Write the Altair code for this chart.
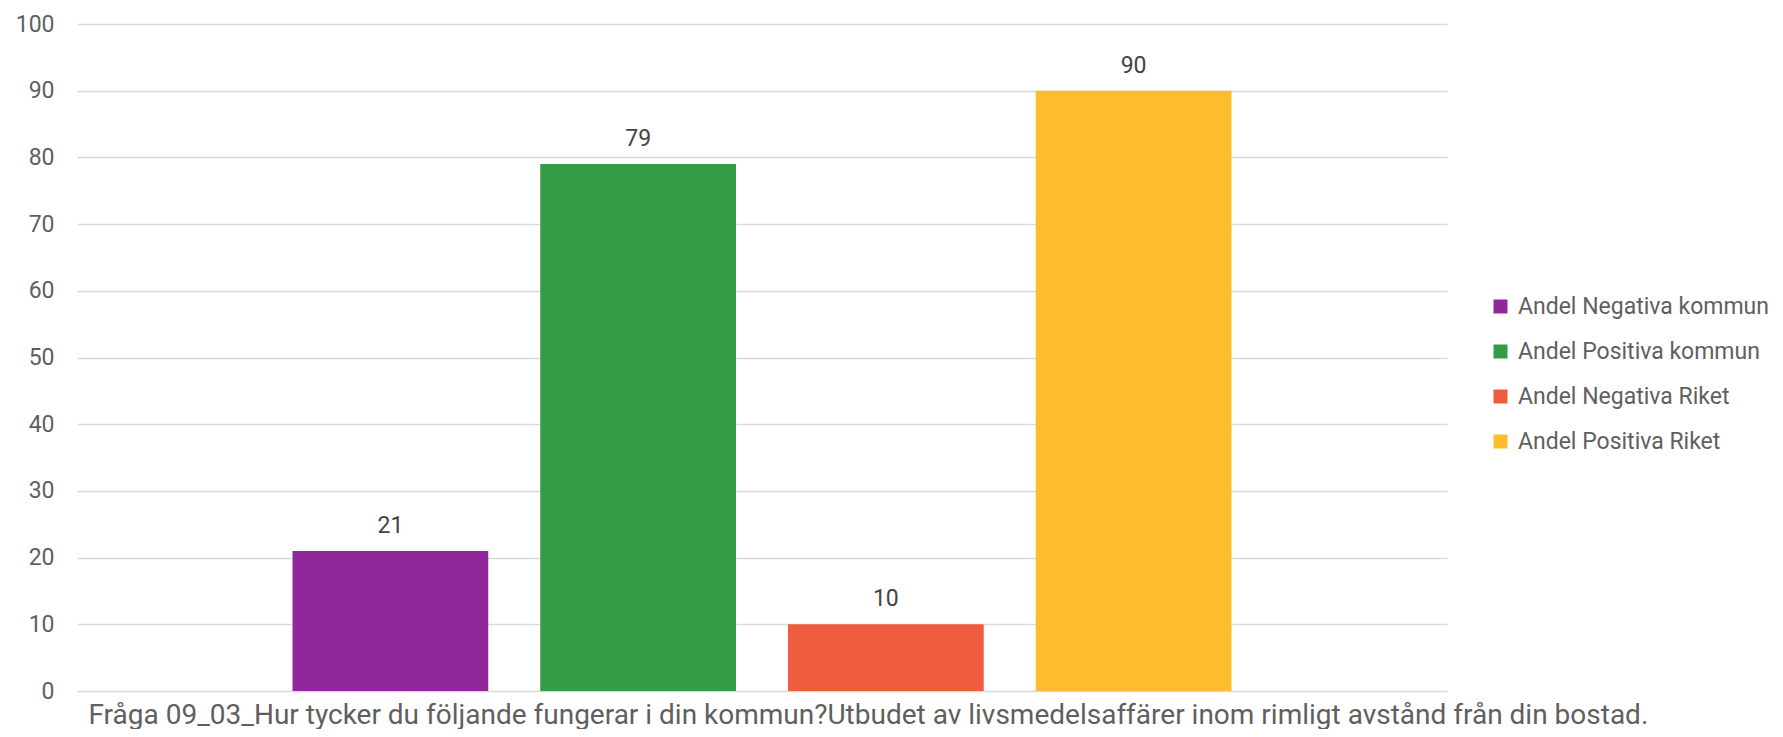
import altair as alt
import pandas as pd

series = ["Andel Negativa kommun", "Andel Positiva kommun", "Andel Negativa Riket", "Andel Positiva Riket"]
values = [21, 79, 10, 90]
colors = ["#90289B", "#349B47", "#EF5B3D", "#FDBD2F"]
question = "Fråga 09_03_Hur tycker du följande fungerar i din kommun?Utbudet av livsmedelsaffärer inom rimligt avstånd från din bostad."

df = pd.DataFrame({"serie": series, "varde": values})

x = alt.X(
    "serie:N",
    sort=series,
    scale=alt.Scale(paddingInner=0.21, paddingOuter=0.87),
    axis=alt.Axis(labels=False, ticks=False, domain=False, title=question,
                  titleFont="Roboto", titleFontSize=28, titleFontWeight="normal",
                  titleColor="#5f5f5f", titlePadding=10,
                  titleAnchor="start", titleAlign="left", titleX=11),
)

bars = alt.Chart(df).mark_bar().encode(
    x=x,
    y=alt.Y("varde:Q", scale=alt.Scale(domain=[0, 100]),
            axis=alt.Axis(values=list(range(0, 101, 10)), title=None, domain=False, ticks=False,
                          labelFont="Roboto", labelFontSize=23, labelColor="#5f5f5f",
                          labelPadding=23, gridColor="#d9d9d9", gridWidth=1.3)),
    color=alt.Color("serie:N", sort=series,
                    scale=alt.Scale(domain=series, range=colors),
                    legend=alt.Legend(title=None, orient="none", legendX=1412, legendY=271,
                                      symbolType="square", symbolSize=196, symbolStrokeWidth=0,
                                      labelFont="Roboto", labelFontSize=23, labelColor="#5f5f5f",
                                      rowPadding=21, labelOffset=6, padding=0,
                                      labelLimit=400)),
)

labels = alt.Chart(df).mark_text(font="Roboto", fontSize=23, color="#444444",
                                 baseline="alphabetic", dy=-18).encode(
    x=alt.X("serie:N", sort=series),
    y="varde:Q",
    text="varde:Q",
)

chart = alt.layer(bars, labels).properties(
    width=1370, height=667,
    padding={"left": 69, "top": 16, "right": 328, "bottom": 38},
    autosize=alt.AutoSizeParams(type="none"),
).configure_view(stroke=None)

chart.save("out.html", embed_options={"renderer": "svg", "actions": False})
